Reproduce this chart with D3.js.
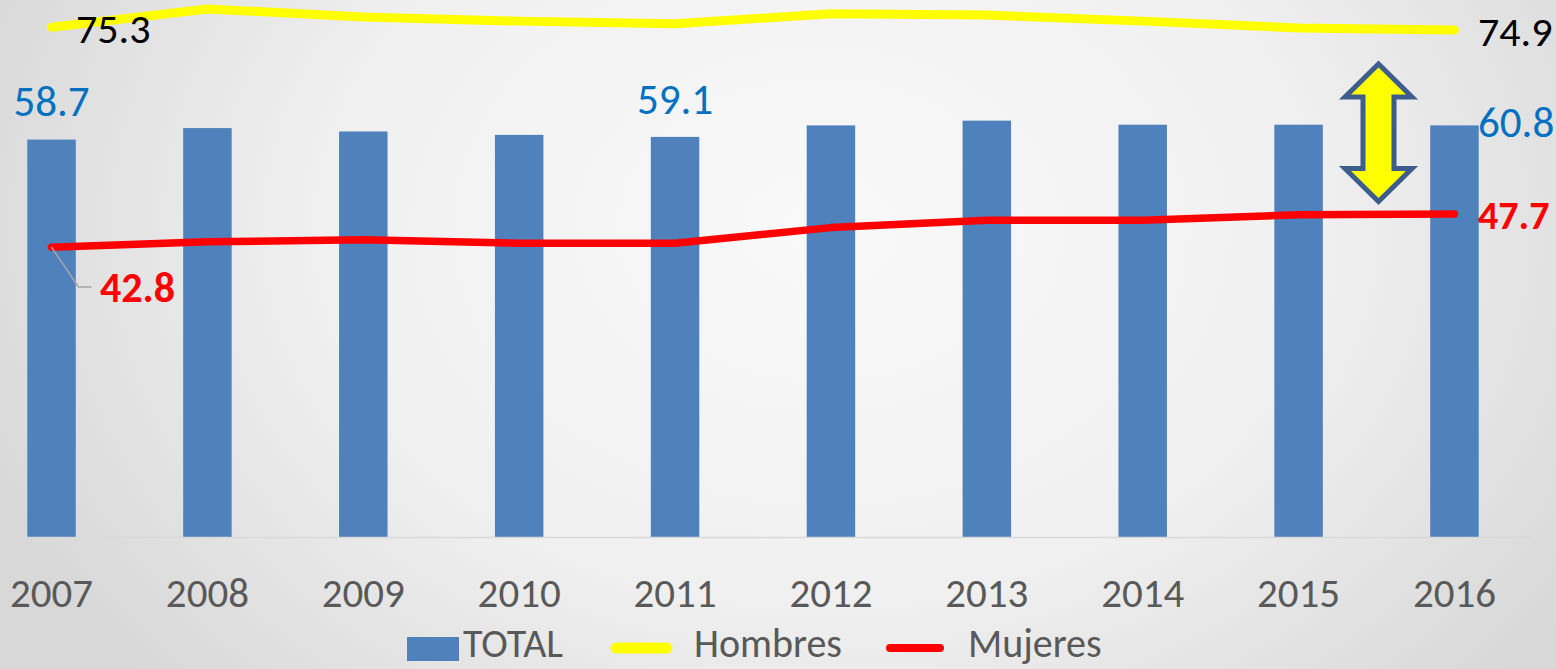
<!DOCTYPE html>
<html>
<head>
<meta charset="utf-8">
<script src="https://cdn.jsdelivr.net/npm/d3@7"></script>
<style>
html,body{margin:0;padding:0;overflow:hidden;}
svg{display:block;}
text{font-family:Carlito,"Liberation Sans Narrow","DejaVu Sans Condensed","Open Sans",sans-serif;}
</style>
</head>
<body>
<svg id="chart" width="1556" height="669"></svg>
<script>
const years = ["2007","2008","2009","2010","2011","2012","2013","2014","2015","2016"];
const total = [58.7, 60.4, 59.9, 59.4, 59.1, 60.8, 61.5, 60.9, 60.9, 60.8];
const hombres = [75.3, 78.0, 76.8, 76.2, 75.8, 77.3, 77.1, 76.2, 75.2, 74.9];
const mujeres = [42.8, 43.6, 43.9, 43.4, 43.4, 45.7, 46.8, 46.8, 47.6, 47.7];
const seriesNames = ["TOTAL", "Hombres", "Mujeres"];

(function(){
const W = 1556, H = 669;
const svg = d3.select("#chart");

// background radial gradient
const defs = svg.append("defs");
const rg = defs.append("radialGradient").attr("id","bg")
  .attr("gradientUnits","userSpaceOnUse")
  .attr("cx", 820).attr("cy", 230).attr("r", 900)
  .attr("gradientTransform","translate(820,230) scale(1,0.75) translate(-820,-230)");
rg.append("stop").attr("offset","0%").attr("stop-color","#f9f9f9");
rg.append("stop").attr("offset","55%").attr("stop-color","#f0f0f0");
rg.append("stop").attr("offset","100%").attr("stop-color","#d8d8d8");
svg.append("rect").attr("width",W).attr("height",H).attr("fill","url(#bg)");

const x = d3.scaleBand().domain(years).range([-26.4, 1532.4])
  .paddingInner(0.689).paddingOuter(0.3445);
const y = d3.scaleLinear().domain([0, 80]).range([537, 537 - 80*6.77]);
const cx = d => x(d) + x.bandwidth()/2;

// bars
svg.append("g").selectAll("rect").data(years).join("rect")
  .attr("x", d => x(d)).attr("width", x.bandwidth())
  .attr("y", (d,i) => y(total[i])).attr("height", (d,i) => y(0) - y(total[i]))
  .attr("fill", "#4f81bd");

// axis
const xAxis = d3.axisBottom(x).tickSize(0).tickPadding(41);
const ax = svg.append("g").attr("transform", `translate(0,${y(0)})`).call(xAxis);
ax.select(".domain").attr("stroke","#d9d9d9").attr("stroke-width",1.5);
ax.selectAll("text").attr("fill","#595959").style("font-size","41px");

// lines
const line = d3.line().x((d,i) => cx(years[i])).y(d => y(d));
svg.append("path").datum(hombres).attr("d", line)
  .attr("fill","none").attr("stroke","#ffff00").attr("stroke-width",9)
  .attr("stroke-linecap","round").attr("stroke-linejoin","round");
svg.append("path").datum(mujeres).attr("d", line)
  .attr("fill","none").attr("stroke","#ff0000").attr("stroke-width",7.5)
  .attr("stroke-linecap","round").attr("stroke-linejoin","round");

// leader line for 42.8
const lp = [[cx(years[0]), y(mujeres[0])], [cx(years[0]) + 27, 287], [cx(years[0]) + 40, 287]];
svg.append("path").attr("d", d3.line()(lp)).attr("fill","none")
  .attr("stroke","#a6a6a6").attr("stroke-width",1.5);

// data labels
const lab = svg.append("g");
function label(txt, xx, yy, color, anchor, bold, size) {
  lab.append("text").text(txt).attr("x", xx).attr("y", yy)
    .attr("fill", color).attr("text-anchor", anchor)
    .style("font-size", size + "px").style("font-weight", bold ? "bold" : "normal");
}
const fmt = d3.format(".1f");
label(fmt(total[0]), cx(years[0]), 116, "#0070c0", "middle", false, 43);
label(fmt(total[4]), cx(years[4]), 114, "#0070c0", "middle", false, 43);
label(fmt(total[9]), 1478, 137, "#0070c0", "start", false, 43);
label(fmt(hombres[0]), 76, 43, "#000000", "start", false, 42);
label(fmt(hombres[9]), 1478, 46, "#000000", "start", false, 42);
label(fmt(mujeres[0]), 100, 302, "#ff0000", "start", true, 42);
label(fmt(mujeres[9]), 1478, 229, "#ff0000", "start", true, 40);

// double arrow annotation
const ac = 1378.5, aTop = 64, aBot = 201.5, hw = 33.5, sw = 15.5, hh = 33;
const arrowPts = [
  [ac, aTop], [ac + hw, aTop + hh], [ac + sw, aTop + hh], [ac + sw, aBot - hh],
  [ac + hw, aBot - hh], [ac, aBot], [ac - hw, aBot - hh], [ac - sw, aBot - hh],
  [ac - sw, aTop + hh], [ac - hw, aTop + hh]
];
svg.append("path").attr("d", d3.line()(arrowPts) + "Z")
  .attr("fill","#ffff00").attr("stroke","#3d5d8d").attr("stroke-width",5)
  .attr("stroke-linejoin","miter");

// legend
const lg = svg.append("g");
const legY = 657;
lg.append("rect").attr("x",407).attr("y",637).attr("width",52).attr("height",24).attr("fill","#4f81bd");
lg.append("text").text(seriesNames[0]).attr("x",463).attr("y",legY).attr("fill","#595959").style("font-size","40px");
lg.append("line").attr("x1",616).attr("x2",667).attr("y1",648).attr("y2",648)
  .attr("stroke","#ffff00").attr("stroke-width",11).attr("stroke-linecap","round");
lg.append("text").text(seriesNames[1]).attr("x",694).attr("y",legY).attr("fill","#595959").style("font-size","40px");
lg.append("line").attr("x1",890).attr("x2",940).attr("y1",648).attr("y2",648)
  .attr("stroke","#ff0000").attr("stroke-width",8).attr("stroke-linecap","round");
lg.append("text").text(seriesNames[2]).attr("x",968).attr("y",legY).attr("fill","#595959").style("font-size","40px");
})();
</script>
</body>
</html>
